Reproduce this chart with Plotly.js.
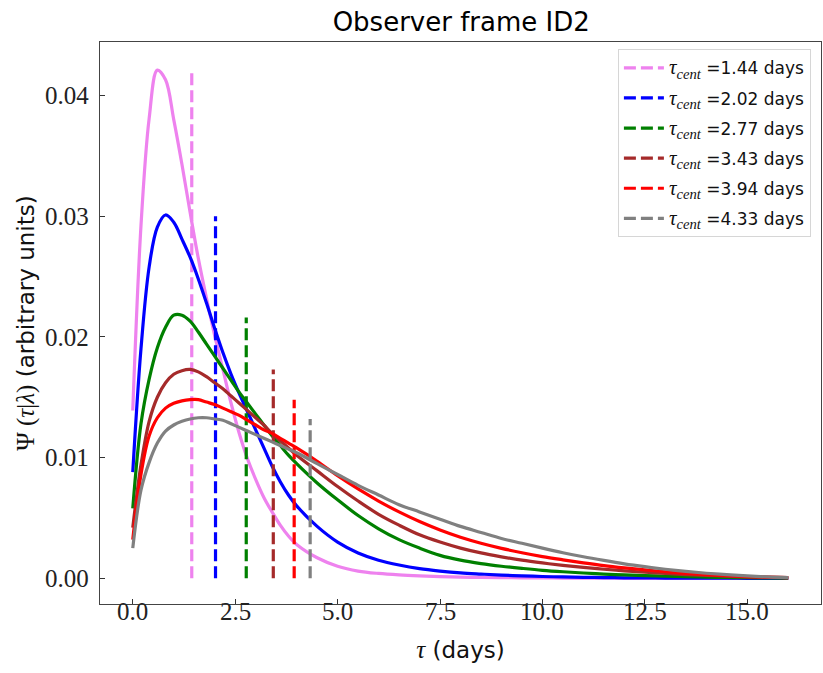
<!DOCTYPE html>
<html>
<head>
<meta charset="utf-8">
<script src="https://cdn.plot.ly/plotly-3.0.1.min.js"></script>
<style>html,body{margin:0;padding:0;background:#fff}#chart{width:823px;height:673px}</style>
</head>
<body>
<div id="chart"></div>
<script>
// centroid lags (days) and legend labels
const centroids = [1.44, 2.02, 2.77, 3.43, 3.94, 4.33];
const centroidLabels = ["1.44", "2.02", "2.77", "3.43", "3.94", "4.33"];
// height of each dashed centroid marker (peak of the matching curve)
const dashTops = [0.0420, 0.0300, 0.0216, 0.0173, 0.0148, 0.0132];
const colors = ["violet", "blue", "green", "brown", "red", "gray"];

const tau = [0, 0.2, 0.4, 0.6, 0.8, 1.0, 1.2, 1.4, 1.6, 1.8, 2.0, 2.2, 2.4, 2.6, 2.8, 3.0, 3.2, 3.4, 3.6, 3.8,
             4.0, 4.5, 5.0, 5.5, 6.0, 6.5, 7.0, 7.5, 8.0, 8.5, 9.0, 9.5, 10, 10.5, 11, 11.5, 12, 12.5, 13, 13.5, 14, 14.5, 15, 15.5, 16];

const psiViolet = [0.0139, 0.0292, 0.0381, 0.0421, 0.0413, 0.0380, 0.0343, 0.0303, 0.0265, 0.0232, 0.0201, 0.0173, 0.0145, 0.0120, 0.0099, 0.0082, 0.0067, 0.0055, 0.0044, 0.0035,
                   0.0028, 0.0017, 0.0010, 0.0006, 0.0004, 0.00028, 0.0002, 0.00014, 0.0001, 0.00007, 0.00005, 0.00004, 0.00003, 0.00002, 0.00001, 0.00001, 0, 0, 0, 0, 0, 0, 0, 0, 0];
const psiBlue = [0.0088, 0.0190, 0.0258, 0.0291, 0.0301, 0.0295, 0.0281, 0.0266, 0.0248, 0.0228, 0.0207, 0.0187, 0.0169, 0.0153, 0.0138, 0.0123, 0.0108, 0.0093, 0.0080, 0.0069,
                 0.0060, 0.0043, 0.0030, 0.0021, 0.0015, 0.0011, 0.0008, 0.0006, 0.00045, 0.00035, 0.00026, 0.0002, 0.00015, 0.00011, 0.00008, 0.00006, 0.00004, 0.00003, 0.00002, 0.000015, 0.00001, 0.00001, 0, 0, 0];
const psiGreen = [0.0058, 0.0128, 0.0165, 0.0191, 0.0208, 0.0218, 0.0218, 0.0213, 0.0204, 0.0194, 0.0184, 0.0174, 0.0164, 0.0154, 0.0145, 0.0136, 0.0127, 0.0118, 0.0110, 0.0102,
                  0.0095, 0.0079, 0.0065, 0.0052, 0.0041, 0.0032, 0.0025, 0.0019, 0.0015, 0.00122, 0.0010, 0.00082, 0.00066, 0.00054, 0.00044, 0.00035, 0.00028, 0.00022, 0.00017, 0.00013, 0.0001, 0.00007, 0.00005, 0.00003, 0.00002];
const psiBrown = [0.0042, 0.0094, 0.0130, 0.0150, 0.0162, 0.0169, 0.0172, 0.0173, 0.0171, 0.0167, 0.0162, 0.0157, 0.0151, 0.0145, 0.0139, 0.0133, 0.0127, 0.0120, 0.0114, 0.0108,
                  0.0102, 0.0089, 0.0076, 0.0064, 0.0053, 0.0044, 0.0036, 0.0030, 0.0025, 0.0021, 0.00178, 0.0015, 0.00127, 0.00107, 0.0009, 0.00075, 0.00062, 0.0005, 0.0004, 0.00031, 0.00024, 0.00018, 0.00012, 0.00008, 0.00005];
const psiRed = [0.0032, 0.0086, 0.0118, 0.0133, 0.0141, 0.0145, 0.0147, 0.0148, 0.0148, 0.0146, 0.0144, 0.0141, 0.0138, 0.0135, 0.0131, 0.0127, 0.0123, 0.0120, 0.0116, 0.0112,
                0.0108, 0.0097, 0.0085, 0.0074, 0.0064, 0.0055, 0.0047, 0.0040, 0.0034, 0.0029, 0.00248, 0.00212, 0.0018, 0.00153, 0.00128, 0.00105, 0.00086, 0.00069, 0.00054, 0.00041, 0.0003, 0.00021, 0.00014, 0.00009, 0.00005];
const psiGray = [0.0025, 0.0073, 0.0096, 0.0112, 0.0122, 0.0127, 0.0130, 0.0132, 0.0133, 0.0133, 0.0132, 0.0131, 0.0128, 0.0125, 0.0122, 0.0119, 0.0116, 0.0113, 0.0110, 0.0107,
                 0.0104, 0.0095, 0.0086, 0.0077, 0.0069, 0.0061, 0.0055, 0.0049, 0.0043, 0.0038, 0.0033, 0.0029, 0.0025, 0.00212, 0.00178, 0.00148, 0.0012, 0.00096, 0.00075, 0.00057, 0.00042, 0.0003, 0.0002, 0.00011, 0.00005];

// tick labels
const xTicks = [0, 2.5, 5, 7.5, 10, 12.5, 15];
const xTickText = ["0.0", "2.5", "5.0", "7.5", "10.0", "12.5", "15.0"];
const yTicks = [0, 0.01, 0.02, 0.03, 0.04];
const yTickText = ["0.00", "0.01", "0.02", "0.03", "0.04"];

const psis = [psiViolet, psiBlue, psiGreen, psiBrown, psiRed, psiGray];

const serif = "Liberation Serif";
const sans = "DejaVu Sans";
const traces = [];
for (let i = 0; i < colors.length; i++) {
  traces.push({
    x: tau, y: psis[i], type: "scatter", mode: "lines",
    line: {color: colors[i], width: 3.2, shape: "spline", smoothing: 1},
    showlegend: false, hoverinfo: "skip"
  });
  traces.push({
    x: [centroids[i], centroids[i]], y: [0, dashTops[i]], type: "scatter", mode: "lines",
    line: {color: colors[i], width: 3.2, dash: "12px,5px"},
    legendgroup: "g" + i,
    name: '<span style="font-family:' + serif + ';font-size:21px"><i>τ</i><sub><i>cent</i></sub></span> =' + centroidLabels[i] + ' days',
    hoverinfo: "skip"
  });
}

// x tick labels drawn on the x scale, just below the axis line
const xLabelAnnotations = xTicks.map((v, i) => ({
  x: v, xref: "x", y: 0, yref: "paper", yanchor: "top", xanchor: "center",
  yshift: 8, showarrow: false, text: xTickText[i],
  font: {family: serif, size: 25, color: "#222"}
}));

const layout = {
  width: 823, height: 673,
  margin: {l: 100, r: 2, t: 42, b: 69},
  paper_bgcolor: "#fff", plot_bgcolor: "#fff",
  title: {text: "Observer frame ID2", font: {family: sans, size: 26, color: "#000"}, x: 0.5604, xanchor: "center", y: 0.968, yanchor: "middle"},
  xaxis: {
    range: [-0.8, 16.8], tickmode: "array", tickvals: xTicks, ticktext: xTickText,
    ticks: "inside", ticklen: 5, tickwidth: 1, tickcolor: "#333",
    showline: true, linecolor: "#444", linewidth: 1.2, mirror: true,
    showgrid: false, zeroline: false, showticklabels: false,
    title: {text: '<span style="font-family:' + serif + ';font-size:25px"><i>τ</i></span> (days)', font: {family: sans, size: 23, color: "#111"}, standoff: 37}
  },
  yaxis: {
    range: [-0.00213, 0.04443], tickmode: "array", tickvals: yTicks, ticktext: yTickText,
    ticks: "inside", ticklen: 5, tickwidth: 1, tickcolor: "#333",
    showline: true, linecolor: "#444", linewidth: 1.2, mirror: true,
    showgrid: false, zeroline: false,
    tickfont: {family: serif, size: 25, color: "#222"},
    ticklabelstandoff: 5,
    title: {text: '<span style="font-family:' + serif + ';font-size:25px">Ψ (<i>τ</i>|<i>λ</i>)</span> (arbitrary units)', font: {family: sans, size: 23, color: "#111"}, standoff: 4}
  },
  annotations: xLabelAnnotations,
  legend: {
    x: 0.986, y: 0.987, xanchor: "right", yanchor: "top",
    bgcolor: "rgba(255,255,255,0.85)", bordercolor: "#d6d6d6", borderwidth: 1,
    font: {family: sans, size: 17, color: "#111"},
    itemwidth: 40, tracegroupgap: 5
  },
  showlegend: true
};

Plotly.newPlot("chart", traces, layout, {staticPlot: true, displayModeBar: false});
</script>
</body>
</html>
